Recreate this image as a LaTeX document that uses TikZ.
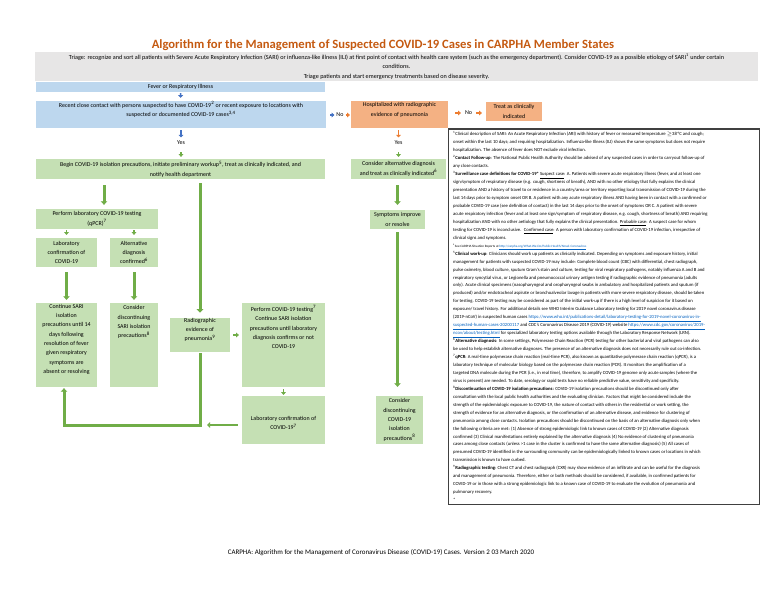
\documentclass[tikz,border=0pt]{standalone}
\usepackage{fontspec}
\setmainfont{Carlito}
\usetikzlibrary{arrows.meta}
\definecolor{boxblue}{HTML}{BDD7EE}
\definecolor{boxorange}{HTML}{F4B183}
\definecolor{boxgreen}{HTML}{C5E0B4}
\definecolor{arrgreen}{HTML}{70AD47}
\definecolor{arrblue}{HTML}{4472C4}
\definecolor{arrorange}{HTML}{ED7D31}
\definecolor{triagegray}{HTML}{E7E6E6}
\definecolor{titlecol}{HTML}{C55A11}
\definecolor{linkblue}{HTML}{0563C1}
\definecolor{notesborder}{HTML}{404040}
\newcommand{\boxfont}{\fontsize{6.0}{9.4}\selectfont}
\newcommand{\fnum}[1]{\textsuperscript{#1}}
\newcommand{\mylink}[1]{\textcolor{linkblue}{\underline{#1}}}
\tikzset{
  fbox/.style={rectangle, inner sep=0pt, align=center, font=\boxfont},
  bluebox/.style={fbox, fill=boxblue},
  orangebox/.style={fbox, fill=boxorange},
  greenbox/.style={fbox, fill=boxgreen},
  lbl/.style={inner sep=1pt, font=\boxfont, align=center},
  sarrow/.style={-{Triangle[length=2.6bp,width=4.8bp]}, line width=1.7bp},
  marrow/.style={-{Triangle[length=3bp,width=5.5bp]}, line width=2bp, draw=arrgreen},
  tarrow/.style={-{Triangle[length=3.5bp,width=6.5bp]}, line width=3bp, draw=arrgreen},
}
\begin{document}
\begin{tikzpicture}[x=1bp,y=-1bp]
\useasboundingbox[fill=white] (0,0) rectangle (768,594);

% title
\node[font=\fontsize{12.7}{14}\selectfont\bfseries, text=titlecol, inner sep=0pt] (title) at (383,45)
  {Algorithm for the Management of Suspected COVID-19 Cases in CARPHA Member States};

% triage
\node[fbox, fill=triagegray, minimum width=723bp, minimum height=29bp, font=\fontsize{6.2}{9.5}\selectfont] (triage) at (396.5,66.5)
  {Triage: recognize and sort all patients with Severe Acute Respiratory Infection (SARI) or influenza-like illness (ILI) at first point of contact with health care system (such as the emergency department). Consider COVID-19 as a possible etiology of SARI\textsuperscript{1} under certain\\conditions.\\Triage patients and start emergency treatments based on disease severity.};

% top row
\node[bluebox, minimum width=289bp, minimum height=10bp] (fever) at (180.5,87) {Fever or Respiratory Illness};
\node[bluebox, minimum width=290bp, minimum height=27bp] (recent) at (181,114.5)
  {Recent close contact with persons suspected to have COVID-19\textsuperscript{2} or recent exposure to locations with\\suspected or documented COVID-19 cases\textsuperscript{3,4}\\[1.5bp]};
\node[orangebox, minimum width=97bp, minimum height=27bp] (hosp) at (399.5,114.5)
  {Hospitalized with radiographic\\evidence of pneumonia\\[1bp]};
\node[orangebox, minimum width=56bp, minimum height=19bp] (treat) at (514,111.5)
  {Treat as clinically\\indicated};
\node[lbl] (no1) at (340,115) {No};
\node[lbl] (no2) at (468.5,113) {No};
\node[lbl] (yes1) at (181,143) {Yes};
\node[lbl] (yes2) at (398.5,143) {Yes};

% second row
\node[greenbox, minimum width=289bp, minimum height=20bp] (begin) at (180.5,169)
  {Begin COVID-19 isolation precautions, initiate preliminary workup\textsuperscript{5}, treat as clinically indicated, and\\notify health department};
\node[greenbox, minimum width=95bp, minimum height=20bp] (consalt) at (398.5,169)
  {Consider alternative diagnosis\\and treat as clinically indicated\textsuperscript{6}};

% left branch
\node[greenbox, minimum width=122bp, minimum height=20bp] (perflab) at (97,219)
  {Perform laboratory COVID-19 testing\\(qPCR)\textsuperscript{7}};
\node[greenbox, minimum width=61bp, minimum height=29bp] (labconf) at (66.5,252.5)
  {Laboratory\\confirmation of\\COVID-19};
\node[greenbox, minimum width=48bp, minimum height=29bp] (altdiag) at (134,252.5)
  {Alternative\\diagnosis\\confirmed\textsuperscript{6}};
\node[greenbox, minimum width=61bp, minimum height=84bp] (csari) at (66.5,345)
  {Continue SARI\\isolation\\precautions until 14\\days following\\resolution of fever\\given respiratory\\symptoms are\\absent or resolving\\[3bp]};
\node[greenbox, minimum width=48bp, minimum height=84bp] (cdsari) at (134,345) {};
\node[lbl, inner sep=0pt, anchor=north] (cdsaritext) at ([yshift=-2.6bp]cdsari.north)
  {Consider\\discontinuing\\SARI isolation\\precautions\textsuperscript{8}};

% middle branch
\node[greenbox, minimum width=60bp, minimum height=34bp] (radio) at (200,335)
  {Radiographic\\evidence of\\pneumonia\textsuperscript{9}\\[2bp]};
\node[greenbox, minimum width=83bp, minimum height=84bp] (pcov) at (283.5,345) {};
\node[lbl, inner sep=0pt, anchor=north] (pcovtext) at ([yshift=-2.6bp]pcov.north)
  {Perform COVID-19 testing\textsuperscript{7}\\Continue SARI isolation\\precautions until laboratory\\diagnosis confirms or not\\COVID-19};
\node[greenbox, minimum width=83bp, minimum height=48bp] (labcov) at (283.5,420)
  {\\[1bp]Laboratory confirmation of\\COVID-19\textsuperscript{7}};

% right branch
\node[greenbox, minimum width=55bp, minimum height=19bp] (symptoms) at (397.5,219.5)
  {Symptoms improve\\or resolve};
\node[greenbox, minimum width=47bp, minimum height=48bp] (cdcov) at (399.5,420)
  {Consider\\discontinuing\\COVID-19\\isolation\\precautions\textsuperscript{8}};

\coordinate (junc) at (200,425);

% connectors
\draw[sarrow, draw=arrblue, shorten <=1bp, shorten >=3bp] (fever) -- (recent);
\draw[sarrow, draw=arrblue, shorten <=2bp, shorten >=2.5bp] (recent.south -| yes1) -- (yes1);
\draw[sarrow, draw=arrgreen, shorten <=6bp, shorten >=2bp] (yes1) -- (yes1 |- begin.north);
\draw[sarrow, draw=arrblue, shorten <=4bp, shorten >=1bp] (recent.east |- no1) -- (no1);
\draw[sarrow, draw=arrorange, shorten <=1bp, shorten >=1bp] (no1) -- (no1 -| hosp.west);
\draw[sarrow, draw=arrorange, shorten <=7bp, shorten >=3bp] (hosp.east |- no2) -- (no2);
\draw[sarrow, draw=arrorange, shorten <=3bp, shorten >=4bp] (no2) -- (no2 -| treat.west);
\draw[sarrow, draw=arrorange, shorten <=2bp, shorten >=2.5bp] (yes2 |- hosp.south) -- (yes2);
\draw[sarrow, draw=arrgreen, shorten <=6bp, shorten >=2bp] (yes2) -- (yes2 |- consalt.north);

\draw[tarrow, shorten <=6bp, shorten >=4bp] ([xshift=7bp]perflab.north |- begin.south) -- ([xshift=7bp]perflab.north);
\draw[tarrow, shorten <=4bp, shorten >=5bp] (radio.north |- begin.south) -- (radio.north);
\draw[sarrow, draw=arrgreen, shorten <=1bp, shorten >=3bp] (labconf.north |- perflab.south) -- (labconf.north);
\draw[sarrow, draw=arrgreen, shorten <=1bp, shorten >=3bp] (altdiag.north |- perflab.south) -- (altdiag.north);
\draw[tarrow, shorten <=5bp, shorten >=3bp] (labconf) -- (csari);
\draw[tarrow, shorten <=5bp, shorten >=3bp] (altdiag) -- (cdsari);
\draw[sarrow, draw=arrgreen, shorten <=3bp, shorten >=3bp] (radio.east) -- (radio.east -| pcov.west);
\draw[sarrow, draw=arrgreen, shorten <=2bp, shorten >=1bp] (pcov.south -| labcov.north) -- (labcov.north);
\draw[marrow, shorten <=4bp, shorten >=7bp] (labcov.west |- junc) -- (junc);
\draw[tarrow, shorten <=1bp, shorten >=1bp] (radio.south) -- (junc) -| ([xshift=-2.5bp]csari.south);
\draw[tarrow, shorten <=6bp, shorten >=5bp] (consalt.south -| symptoms) -- (symptoms.north);
\draw[tarrow, shorten <=3bp, shorten >=9bp] (symptoms.south) -- (symptoms.south |- cdcov.north);

% notes
\node[rectangle, draw=notesborder, line width=0.8bp, minimum width=311bp, minimum height=375bp, anchor=north west, inner sep=0pt] (notesbox) at (448,129) {};
\draw[notesborder, line width=1.6bp] (notesbox.north west) -- (notesbox.north east);
\node[anchor=north west, inner sep=0pt, align=left, font=\fontsize{4.7}{7.98}\selectfont] (notestext) at ([xshift=5bp,yshift=-2.6bp]notesbox.north west)
{\fnum{1}Clinical description of SARI: An Acute Respiratory Infection (ARI) with history of fever or measured temperature $\geq$38\,°C and cough;\\
onset within the last 10 days; and requiring hospitalization. Influenza-like Illness (ILI) shows the same symptoms but does not require\\
hospitalization. The absence of fever does NOT exclude viral infection.\\
\fnum{2}\textbf{Contact Follow-up}: The National Public Health Authority should be advised of any suspected cases in order to carryout follow-up of\\
any close contacts.\\
\fnum{3}\textbf{Surveillance case definitions for COVID-19*} \underline{Suspect case}: A. Patients with severe acute respiratory illness (fever, and at least one\\
sign/symptom of respiratory disease (e.g. cough, shortness of breath), AND with no other etiology that fully explains the clinical\\
presentation AND a history of travel to or residence in a country/area or territory reporting local transmission of COVID-19 during the\\
last 14 days prior to symptom onset OR B. A patient with any acute respiratory illness AND having been in contact with a confirmed or\\
probable COVID-19 case (see definition of contact) in the last 14 days prior to the onset of symptoms OR C. A patient with severe\\
acute respiratory infection (fever and at least one sign/symptom of respiratory disease, e.g. cough, shortness of breath) AND requiring\\
hospitalization AND with no other aetiology that fully explains the clinical presentation. \underline{Probable case}: A suspect case for whom\\
testing for COVID-19 is inconclusive. \ \underline{Confirmed case}: A person with laboratory confirmation of COVID-19 infection, irrespective of\\
clinical signs and symptoms.\\
{\fontsize{3.3}{5}\selectfont\fnum{4}See CARPHA Situation Reports at \mylink{http://carpha.org/What-We-Do/Public-Health/Novel-Coronavirus}}\\
\fnum{5}\textbf{Clinical work-up}: Clinicians should work up patients as clinically indicated. Depending on symptoms and exposure history, initial\\
management for patients with suspected COVID-19 may include: Complete blood count (CBC) with differential, chest radiograph,\\
pulse oximetry, blood culture, sputum Gram's stain and culture, testing for viral respiratory pathogens, notably influenza A and B and\\
respiratory syncytial virus, or Legionella and pneumococcal urinary antigen testing if radiographic evidence of pneumonia (adults\\
only). Acute clinical specimens (nasopharyngeal and oropharyngeal swabs in ambulatory and hospitalized patients and sputum (if\\
produced) and/or endotracheal aspirate or bronchoalveolar lavage in patients with more severe respiratory disease, should be taken\\
for testing. COVID-19 testing may be considered as part of the initial work-up if there is a high level of suspicion for it based on\\
exposure/ travel history. For additional details see WHO Interim Guidance Laboratory testing for 2019 novel coronavirus disease\\
(2019-nCoV) in suspected human cases \mylink{https://www.who.int/publications-detail/laboratory-testing-for-2019-novel-coronavirus-in-}\\
\mylink{suspected-human-cases-20200117} and CDC's Coronavirus Disease 2019 (COVID-19) website \mylink{https://www.cdc.gov/coronavirus/2019-}\\
\mylink{ncov/about/testing.html} for specialized laboratory testing options available through the Laboratory Response Network (LRN).\\
\fnum{6}\textbf{Alternative diagnosis}: In some settings, Polymerase Chain Reaction (PCR) testing for other bacterial and viral pathogens can also\\
be used to help establish alternative diagnoses. The presence of an alternative diagnosis does not necessarily rule out co-infection.\\
\fnum{7}\textbf{qPCR}: A real-time polymerase chain reaction (real-time PCR), also known as quantitative polymerase chain reaction (qPCR), is a\\
laboratory technique of molecular biology based on the polymerase chain reaction (PCR). It monitors the amplification of a\\
targeted DNA molecule during the PCR (i.e., in real time), therefore, to amplify COVID-19 genome only acute samples (where the\\
virus is present) are needed. To date, serology or rapid tests have no reliable predictive value, sensitivity and specificity.\\
\fnum{8}\textbf{Discontinuation of COVID-19 isolation precautions:} COVID-19 isolation precautions should be discontinued only after\\
consultation with the local public health authorities and the evaluating clinician. Factors that might be considered include the\\
strength of the epidemiologic exposure to COVID-19, the nature of contact with others in the residential or work setting, the\\
strength of evidence for an alternative diagnosis, or the confirmation of an alternative disease, and evidence for clustering of\\
pneumonia among close contacts. Isolation precautions should be discontinued on the basis of an alternative diagnosis only when\\
the following criteria are met: (1) Absence of strong epidemiologic link to known cases of COVID-19 (2) Alternative diagnosis\\
confirmed (3) Clinical manifestations entirely explained by the alternative diagnosis (4) No evidence of clustering of pneumonia\\
cases among close contacts (unless >1 case in the cluster is confirmed to have the same alternative diagnosis) (5) All cases of\\
presumed COVID-19 identified in the surrounding community can be epidemiologically linked to known cases or locations in which\\
transmission is known to have curbed.\\
\fnum{9}\textbf{Radiographic testing}: Chest CT and chest radiograph (CXR) may show evidence of an infiltrate and can be useful for the diagnosis\\
and management of pneumonia. Therefore, either or both methods should be considered, if available, in confirmed patients for\\
COVID-19 or in those with a strong epidemiologic link to a known case of COVID-19 to evaluate the evolution of pneumonia and\\
pulmonary recovery.\\
*};

% caption
\node[font=\fontsize{7.0}{8}\selectfont, inner sep=0pt] (caption) at (381,553)
  {CARPHA: Algorithm for the Management of Coronavirus Disease (COVID-19) Cases. Version 2 03 March 2020};
\end{tikzpicture}
\end{document}
